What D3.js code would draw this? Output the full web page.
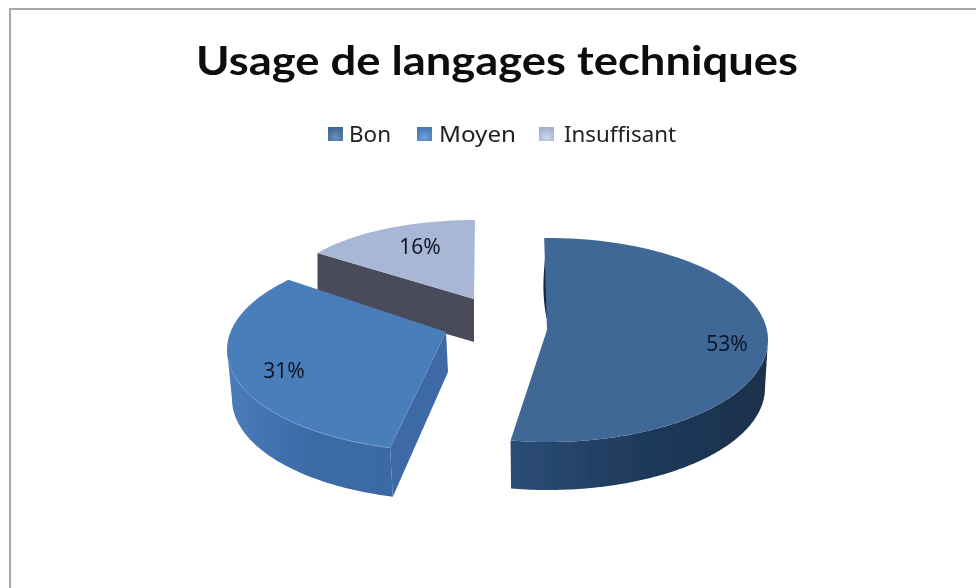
<!DOCTYPE html>
<html><head><meta charset="utf-8">
<script src="https://cdn.jsdelivr.net/npm/d3@7"></script>
<style>html,body{margin:0;padding:0;background:#fff;overflow:hidden}svg{display:block}</style>
</head><body><svg id="c" width="976" height="588"></svg>
<script>
const titleText = "Usage de langages techniques";
const categories = ["Bon", "Moyen", "Insuffisant"];
const values = [53, 31, 16];

// Per-slice 3D projection settings (perspective look of the exploded pie)
const projection = [
  {cx:548, cy:340, rx:220, ry:102, bx:548, by:388, brx:217, bry:102, apex:[547,330], apexB:null,     da:[-1,-1],
   top:"#3f6897", wall:["#2c4d76","#1f3a5b","#1b304b"], face:null},
  {cx:446, cy:350, rx:219, ry:101, bx:448, by:399, brx:216, bry:101, apex:[446,332], apexB:[448,372], da:[4,11.6],
   top:"#4a7ebb", wall:["#4a7cb9","#3b6ba7","#3a69a4"], face:"#3d6ba6"},
  {cx:475, cy:295, rx:190, ry:75,  bx:475, by:338, brx:190, bry:75,  apex:[474,299], apexB:[474,342], da:[1.6,0],
   top:"#a9b7d6", wall:null, face:"#484c5a"}
];
const legendLayout = [{x:328,tx:349},{x:417,tx:439},{x:539,tx:564}];
const labelLayout = [[727,344],[284,371],[420,247]];
const legendColor = [["#6f8fb6","#3f6897"],["#6d9fd8","#4679b5"],["#ccd5e8","#a3b0cf"]];

const svg = d3.select("#c");
const defs = svg.append("defs");
defs.append("filter").attr("id","soft").attr("x","-5%").attr("y","-5%").attr("width","110%").attr("height","110%")
  .append("feGaussianBlur").attr("stdDeviation",0.45);
const root = svg.append("g").attr("filter","url(#soft)");

// frame
root.append("path").attr("d","M10,588V9H976").attr("fill","none").attr("stroke","#a8a8a8").attr("stroke-width",2);

// title
root.append("text").attr("x",497).attr("y",75).attr("text-anchor","middle")
  .attr("font-family","Lato,sans-serif").attr("font-weight",700).attr("font-size",40)
  .attr("textLength",602).attr("lengthAdjust","spacingAndGlyphs").attr("fill","#111").text(titleText);

// legend
const lg = root.selectAll("g.lg").data(categories).join("g").attr("class","lg");
lg.each(function(d,i){
  const g = defs.append("radialGradient").attr("id","lg"+i).attr("cx","50%").attr("cy","75%").attr("r","70%");
  g.append("stop").attr("offset","0%").attr("stop-color",legendColor[i][0]);
  g.append("stop").attr("offset","100%").attr("stop-color",legendColor[i][1]);
});
lg.append("rect").attr("x",(d,i)=>legendLayout[i].x).attr("y",127).attr("width",15).attr("height",14)
  .attr("fill",(d,i)=>`url(#lg${i})`);
lg.append("text").attr("x",(d,i)=>legendLayout[i].tx).attr("y",142)
  .attr("font-family","'Noto Sans',sans-serif").attr("font-size",21).attr("fill","#222").text(d=>d)
  .attr("textLength",(d,i)=>[42,77,112][i]).attr("lengthAdjust","spacingAndGlyphs");

// pie
const pie = d3.pie().sort(null).value(d=>d);
const toDeg = d3.scaleLinear().domain([0,2*Math.PI]).range([0,360]);
const arcs = pie(values).map((a,i)=>({...a,startDeg:toDeg(a.startAngle),endDeg:toDeg(a.endAngle),p:projection[i],name:categories[i],i}));
const line = d3.line();
const pt = (cx,cy,rx,ry,deg)=>[cx+rx*Math.sin(toDeg.invert(deg)),cy-ry*Math.cos(toDeg.invert(deg))];
const arcPts = (cx,cy,rx,ry,a0,a1)=>{
  const n = Math.max(2,Math.ceil(Math.abs(a1-a0)));
  return d3.range(n+1).map(k=>pt(cx,cy,rx,ry,a0+(a1-a0)*k/n));
};

// back to front
const order = [2,1,0];
const pg = root.append("g");
order.forEach(idx=>{
  const s = arcs[idx], p = s.p;
  const a0 = s.startDeg + p.da[0], a1 = s.endDeg + p.da[1];
  const g = pg.append("g").attr("class","slice").datum(s);
  // visible outer wall
  if(p.wall){
    const w0 = Math.max(a0,90), w1 = Math.min(a1,270);
    const topA = arcPts(p.cx,p.cy,p.rx,p.ry,w0,w1);
    const botA = arcPts(p.bx,p.by,p.brx,p.bry,w1,w0);
    const xs = topA.concat(botA).map(q=>q[0]);
    const grad = defs.append("linearGradient").attr("id","wall"+idx).attr("gradientUnits","userSpaceOnUse")
      .attr("x1",d3.min(xs)).attr("x2",d3.max(xs)).attr("y1",0).attr("y2",0);
    p.wall.forEach((c,k)=>grad.append("stop").attr("offset",k/(p.wall.length-1)).attr("stop-color",c));
    g.append("path").attr("d",line(topA.concat(botA))+"Z").attr("fill",`url(#wall${idx})`);
  }
  // visible cut face
  if(p.face){
    const corner = pt(p.cx,p.cy,p.rx,p.ry,a0);
    const cornerB = pt(p.bx,p.by,p.brx,p.bry,a0);
    g.append("path").attr("d",line([p.apex,corner,cornerB,p.apexB])+"Z").attr("fill",p.face);
  }
  // inner sliver on the largest slice
  if(idx===0){
    g.append("path").attr("d",d3.line().curve(d3.curveBasis)([[545,258],[542,295],[549,334],[552,300],[547,258]])+"Z")
      .attr("fill","#142a45");
  }
  // top face
  const rim = arcPts(p.cx,p.cy,p.rx,p.ry,a0,a1);
  g.append("path").attr("d",line([p.apex].concat(rim))+"Z").attr("fill",p.top);
  // lit rim on front edge
  if(idx===1){
    g.append("path").attr("d",line(arcPts(p.cx,p.cy,p.rx,p.ry,a0,255))).attr("fill","none")
      .attr("stroke","#6f9bd2").attr("stroke-width",1);
  }
});

// labels
root.selectAll("text.pct").data(arcs).join("text").attr("class","pct")
  .attr("x",d=>labelLayout[d.i][0]).attr("y",d=>labelLayout[d.i][1]).attr("dy","0.35em")
  .attr("text-anchor","middle").attr("font-family","'Noto Sans',sans-serif").attr("font-size",21)
  .attr("fill","#10182a").text(d=>d.data+"%");
</script></body></html>
